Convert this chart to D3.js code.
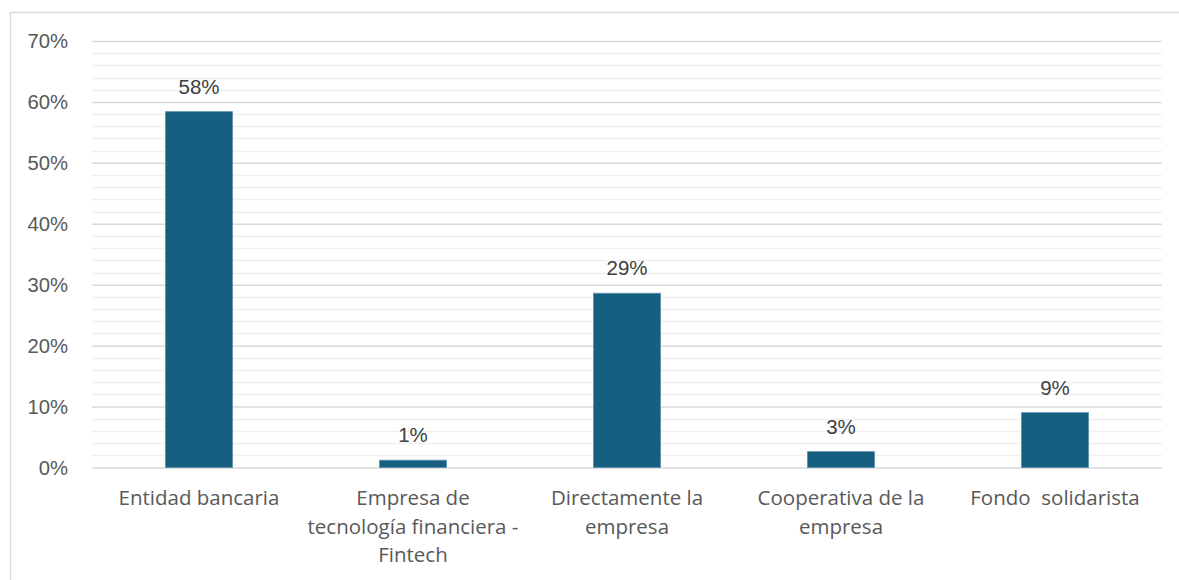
<!DOCTYPE html>
<html>
<head>
<meta charset="utf-8">
<script src="https://cdn.jsdelivr.net/npm/d3@7"></script>
<style>
  html, body { margin: 0; padding: 0; background: #ffffff; }
  svg { display: block; }
</style>
</head>
<body>
<svg id="chart" width="1179" height="580"></svg>
<script>
// Source of financing for employees, share of respondents
const categories = [
  "Entidad bancaria",
  "Empresa de\ntecnología financiera -\nFintech",
  "Directamente la\nempresa",
  "Cooperativa de la\nempresa",
  "Fondo  solidarista"
];
const shares = [0.584, 0.012, 0.286, 0.026, 0.090];
const yTicks = [0, 0.1, 0.2, 0.3, 0.4, 0.5, 0.6, 0.7];

const svg = d3.select("#chart");
const W = 1179, H = 580;
const margin = { left: 92, right: 17, top: 41, bottom: 112.5 };

// chart frame (extends past the right/bottom edge)
svg.append("rect")
  .attr("x", 10.5).attr("y", 12.5)
  .attr("width", W + 20).attr("height", H + 20)
  .attr("fill", "#ffffff")
  .attr("stroke", "#d9d9d9").attr("stroke-width", 1.5);

const x = d3.scaleBand()
  .domain(categories)
  .range([margin.left, W - margin.right])
  .paddingInner(0.687)
  .paddingOuter(0.3435);

const y = d3.scaleLinear()
  .domain([0, 0.7])
  .range([H - margin.bottom, margin.top]);

// minor gridlines every 2%
const minor = d3.range(0, 0.7001, 0.02).filter(v => Math.abs(Math.round(v * 10) - v * 10) > 1e-6);
svg.append("g")
  .selectAll("line")
  .data(minor)
  .join("line")
  .attr("x1", margin.left).attr("x2", W - margin.right)
  .attr("y1", d => Math.round(y(d)) + 0.5)
  .attr("y2", d => Math.round(y(d)) + 0.5)
  .attr("stroke", "#f0f0f0").attr("stroke-width", 1.5);

// major gridlines and tick labels
const yAxis = d3.axisLeft(y)
  .tickValues(yTicks)
  .tickFormat(d3.format(".0%"))
  .tickSize(-(W - margin.left - margin.right))
  .tickPadding(24);

const gy = svg.append("g")
  .attr("transform", `translate(${margin.left},0)`)
  .call(yAxis);
gy.select(".domain").remove();
gy.selectAll(".tick line")
  .attr("stroke", "#d9d9d9").attr("stroke-width", 1.5);
gy.selectAll(".tick text")
  .attr("fill", "#595959")
  .attr("font-family", "Liberation Sans, Arial, sans-serif")
  .attr("font-size", 20.3);

// bars
svg.append("g")
  .selectAll("rect")
  .data(shares)
  .join("rect")
  .attr("x", (d, i) => x(categories[i]))
  .attr("y", d => y(d))
  .attr("width", x.bandwidth())
  .attr("height", d => y(0) - y(d))
  .attr("fill", "#175f80")
  .attr("stroke", "#5a8eab")
  .attr("stroke-width", 0.8);

// value labels
svg.append("g")
  .selectAll("text")
  .data(shares)
  .join("text")
  .attr("x", (d, i) => x(categories[i]) + x.bandwidth() / 2)
  .attr("y", d => y(d) - 18)
  .attr("text-anchor", "middle")
  .attr("fill", "#404040")
  .attr("font-family", "Liberation Sans, Arial, sans-serif")
  .attr("font-size", 20.5)
  .text(d => d3.format(".0%")(d));

// category labels, one tspan per line
const gx = svg.append("g");
categories.forEach(c => {
  const t = gx.append("text")
    .attr("x", x(c) + x.bandwidth() / 2)
    .attr("y", 505)
    .attr("text-anchor", "middle")
    .attr("fill", "#595959")
    .attr("font-family", "Open Sans, sans-serif")
    .attr("font-size", 20.5)
    .style("white-space", "pre");
  c.split("\n").forEach((line, i) => {
    t.append("tspan")
      .attr("x", x(c) + x.bandwidth() / 2)
      .attr("dy", i === 0 ? 0 : 28.5)
      .text(line);
  });
});
</script>
</body>
</html>
